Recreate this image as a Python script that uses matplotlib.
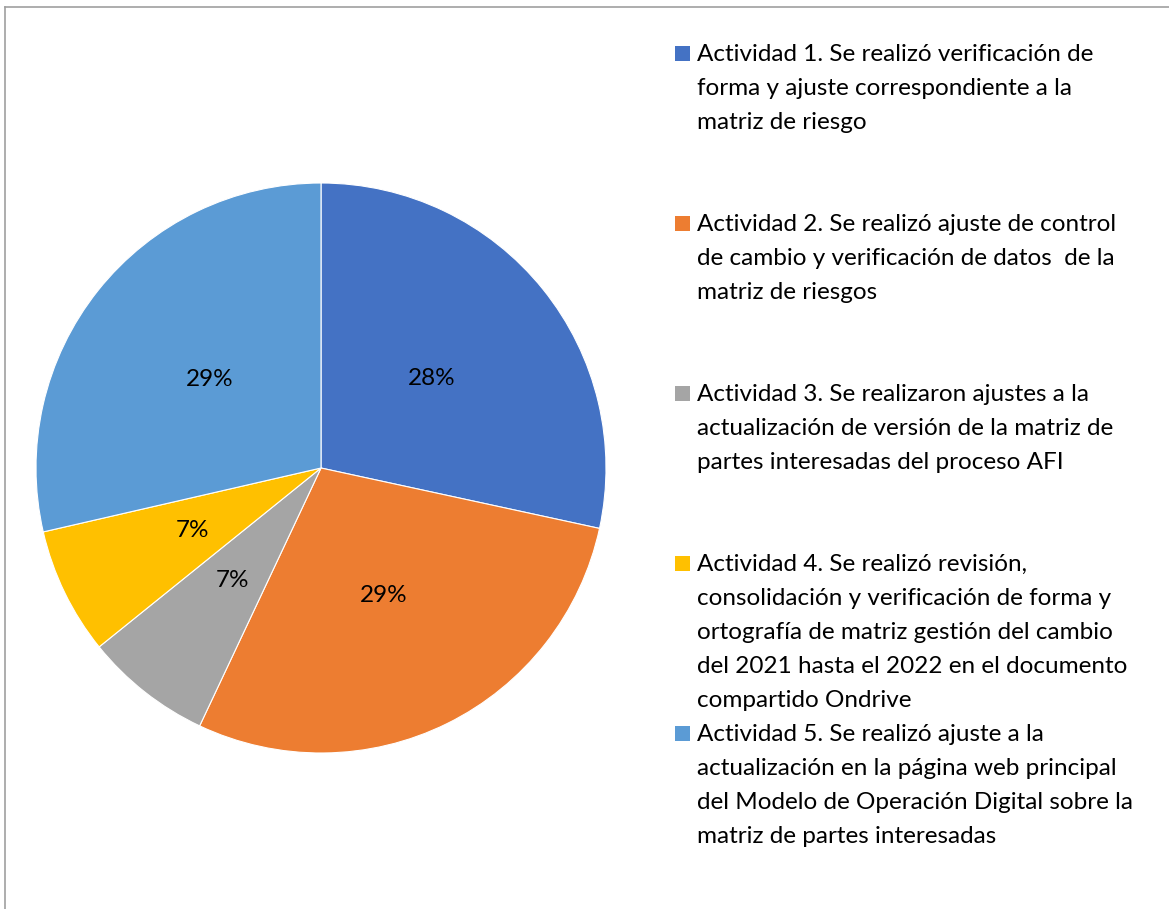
import matplotlib
matplotlib.use("Agg")
import matplotlib.pyplot as plt
from matplotlib.patches import Rectangle
from matplotlib.lines import Line2D

labels = [
    "Actividad 1. Se realizó verificación de\nforma y ajuste correspondiente a la\nmatriz de riesgo",
    "Actividad 2. Se realizó ajuste de control\nde cambio y verificación de datos  de la\nmatriz de riesgos",
    "Actividad 3. Se realizaron ajustes a la\nactualización de versión de la matriz de\npartes interesadas del proceso AFI",
    "Actividad 4. Se realizó revisión,\nconsolidación y verificación de forma y\nortografía de matriz gestión del cambio\ndel 2021 hasta el 2022 en el documento\ncompartido Ondrive",
    "Actividad 5. Se realizó ajuste a la\nactualización en la página web principal\ndel Modelo de Operación Digital sobre la\nmatriz de partes interesadas",
]
values = [28.4, 28.6, 7.2, 7.2, 28.6]
colors = ["#4472C4", "#ED7D31", "#A5A5A5", "#FFC000", "#5B9BD5"]

plt.rcParams["font.family"] = ["Lato", "DejaVu Sans"]
FS = 17.5

W, H = 1169, 909
fig = plt.figure(figsize=(W / 100, H / 100), dpi=100)

# pie axes: centre (321, 468) px, radius 285 px
cx, cy, r = 321, 468, 285
ax = fig.add_axes([(cx - r) / W, (H - cy - r) / H, 2 * r / W, 2 * r / H])
ax.pie(
    values,
    colors=colors,
    startangle=90,
    counterclock=False,
    autopct="%1.0f%%",
    pctdistance=0.5,
    wedgeprops=dict(edgecolor="white", linewidth=0.8),
    textprops=dict(fontsize=FS, color="black"),
)
ax.set_xlim(-1, 1)
ax.set_ylim(-1, 1)
ax.set_aspect("equal")

# legend, drawn line by line
for i, (lab, col) in enumerate(zip(labels, colors)):
    base = 60.7 + 170 * i
    fig.add_artist(Rectangle((675 / W, (H - base) / H), 15 / W, 15 / H,
                             transform=fig.transFigure, facecolor=col, edgecolor="none"))
    for j, line in enumerate(lab.split("\n")):
        fig.text(697 / W, (H - base - 34 * j) / H, line, fontsize=FS,
                 ha="left", va="baseline", color="black")

# chart area border (only top and left visible)
fig.add_artist(Line2D([4.5 / W, 4.5 / W], [0, (H - 7) / H], color="#A0A0A0", lw=1.2,
                      transform=fig.transFigure))
fig.add_artist(Line2D([4.5 / W, 1], [(H - 7) / H, (H - 7) / H], color="#A0A0A0", lw=1.2,
                      transform=fig.transFigure))

fig.savefig("out.png", dpi=100)
